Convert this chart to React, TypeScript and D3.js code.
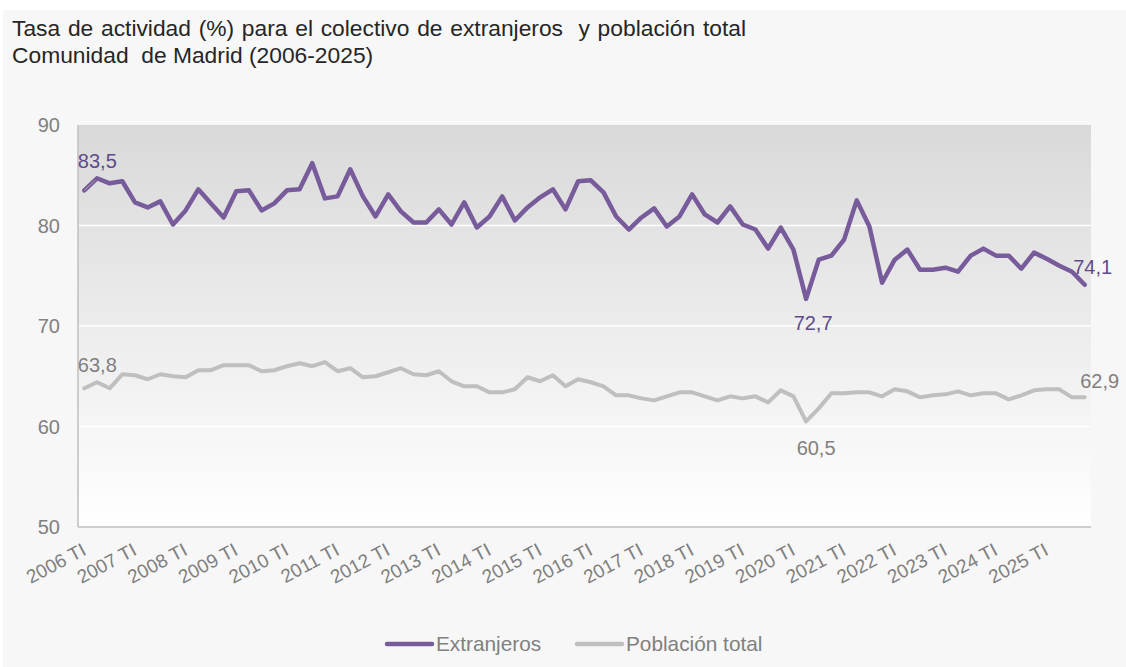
import React from "react";
import * as d3 from "d3";

const years = d3.range(2006, 2026);
const quarterNames = ["TI", "TII", "TIII", "TIV"];
const categories: string[] = years.flatMap((y) => quarterNames.map((q) => `${y} ${q}`));
const tickLabels: string[] = years.map((y) => `${y} TI`);
const yTicks = [50, 60, 70, 80, 90];

const extranjeros = [
  83.5, 84.7, 84.2, 84.4, 82.3, 81.8, 82.4, 80.1, 81.5, 83.6, 82.2, 80.8, 83.4, 83.5, 81.5, 82.2,
  83.5, 83.6, 86.2, 82.7, 82.9, 85.6, 82.9, 80.9, 83.1, 81.4, 80.3, 80.3, 81.6, 80.1, 82.3, 79.8,
  80.9, 82.9, 80.5, 81.8, 82.8, 83.6, 81.6, 84.4, 84.5, 83.3, 80.9, 79.6, 80.8, 81.7, 79.9, 80.9,
  83.1, 81.1, 80.3, 81.9, 80.1, 79.6, 77.7, 79.8, 77.6, 72.7, 76.6, 77.0, 78.6, 82.5, 79.9, 74.3,
  76.6, 77.6, 75.6, 75.6, 75.8, 75.4, 77.0, 77.7, 77.0, 77.0, 75.7, 77.3, 76.7, 76.0, 75.4, 74.1,
];
const poblacionTotal = [
  63.8, 64.4, 63.8, 65.2, 65.1, 64.7, 65.2, 65.0, 64.9, 65.6, 65.6, 66.1, 66.1, 66.1, 65.5, 65.6,
  66.0, 66.3, 66.0, 66.4, 65.5, 65.8, 64.9, 65.0, 65.4, 65.8, 65.2, 65.1, 65.5, 64.5, 64.0, 64.0,
  63.4, 63.4, 63.7, 64.9, 64.5, 65.1, 64.0, 64.7, 64.4, 64.0, 63.1, 63.1, 62.8, 62.6, 63.0, 63.4,
  63.4, 63.0, 62.6, 63.0, 62.8, 63.0, 62.4, 63.6, 63.0, 60.5, 61.8, 63.3, 63.3, 63.4, 63.4, 63.0,
  63.7, 63.5, 62.9, 63.1, 63.2, 63.5, 63.1, 63.3, 63.3, 62.7, 63.1, 63.6, 63.7, 63.7, 62.9, 62.9,
];

const seriesNames = ["Extranjeros", "Población total"];
const seriesColors = ["#775B9B", "#BFBFBF"];
const labelColors = ["#5F4B8B", "#808080"];

const W = 1126;
const H = 667;
const M = { left: 78, right: 1091, top: 125, bottom: 527 };

const fmt = (v: number) => v.toFixed(1).replace(".", ",");

export default function App() {
  const x = d3.scalePoint<string>().domain(categories).range([M.left, M.right]).padding(0.5);
  const y = d3.scaleLinear().domain([50, 90]).range([M.bottom, M.top]);
  const line = d3
    .line<number>()
    .x((_, i) => x(categories[i]) as number)
    .y((d) => y(d));

  const font = "'Liberation Sans', Arial, sans-serif";
  const all = [extranjeros, poblacionTotal];

  const px = (i: number) => x(categories[i]) as number;
  const last = categories.length - 1;
  const minE = extranjeros.indexOf(d3.min(extranjeros) as number);
  const minP = poblacionTotal.indexOf(d3.min(poblacionTotal) as number);

  const dataLabels = [
    { i: 0, s: 0, dx: 13, dy: -22 },
    { i: minE, s: 0, dx: 7, dy: 31 },
    { i: last, s: 0, dx: 8, dy: -11 },
    { i: 0, s: 1, dx: 13, dy: -16 },
    { i: minP, s: 1, dx: 10, dy: 34 },
    { i: last, s: 1, dx: 15, dy: -9 },
  ];

  return (
    <>
      <style>{`body{margin:0;background:#fff}`}</style>
      <svg width={W} height={H} style={{ display: "block", fontFamily: font }}>
        <defs>
          <linearGradient id="plotbg" x1="0" y1="0" x2="0" y2="1">
            <stop offset="0" stopColor="#D9D9D9" />
            <stop offset="1" stopColor="#FFFFFF" />
          </linearGradient>
        </defs>
        <rect x={3} y={10} width={W - 3} height={H - 10} fill="#F7F7F7" />
        <text x={12} y={36} fontSize={22.8} wordSpacing={1.4} fill="#262626" style={{ whiteSpace: "pre" }}>
          {"Tasa de actividad (%) para el colectivo de extranjeros  y población total"}
        </text>
        <text x={12} y={63} fontSize={22.8} fill="#262626" style={{ whiteSpace: "pre" }}>
          {"Comunidad  de Madrid (2006-2025)"}
        </text>

        <rect x={M.left} y={M.top} width={M.right - M.left} height={M.bottom - M.top} fill="url(#plotbg)" />
        {yTicks.slice(1, -1).map((t) => (
          <line key={t} x1={M.left} x2={M.right} y1={y(t)} y2={y(t)} stroke="#FFFFFF" strokeWidth={1.5} />
        ))}
        <line x1={M.left} x2={M.left} y1={M.top} y2={M.bottom} stroke="#BFBFBF" strokeWidth={1.5} />
        <line x1={M.left} x2={M.right} y1={M.bottom} y2={M.bottom} stroke="#BFBFBF" strokeWidth={1.5} />

        {yTicks.map((t) => (
          <text key={t} x={60} y={y(t)} dy="0.35em" textAnchor="end" fontSize={20} fill="#808080">
            {t}
          </text>
        ))}

        {tickLabels.map((lab) => {
          const tx = (x(lab) as number) + 3;
          const ty = 554;
          return (
            <text
              key={lab}
              x={tx}
              y={ty}
              transform={`rotate(-28 ${tx} ${ty})`}
              textAnchor="end"
              fontSize={19}
              fill="#808080"
            >
              {lab}
            </text>
          );
        })}

        {all.map((s, k) => (
          <path
            key={k}
            d={line(s) as string}
            fill="none"
            stroke={seriesColors[k]}
            strokeWidth={k === 0 ? 4.5 : 4}
            strokeLinejoin="round"
            strokeLinecap="round"
          />
        ))}
        <line
          x1={px(0)}
          y1={y(extranjeros[0])}
          x2={px(0) + 11}
          y2={y(extranjeros[0]) - 10}
          stroke="#A6A6A6"
          strokeWidth={1}
        />

        {dataLabels.map((l, k) => (
          <text
            key={k}
            x={px(l.i) + l.dx}
            y={y(all[l.s][l.i]) + l.dy}
            textAnchor="middle"
            fontSize={20}
            fill={labelColors[l.s]}
          >
            {fmt(all[l.s][l.i])}
          </text>
        ))}

        {seriesNames.map((n, k) => {
          const lx = k === 0 ? 387 : 577;
          return (
            <g key={n}>
              <line x1={lx} x2={lx + 45} y1={644} y2={644} stroke={seriesColors[k]} strokeWidth={4.5} strokeLinecap="round" />
              <text x={lx + 49} y={651} fontSize={20.8} fill="#808080">
                {n}
              </text>
            </g>
          );
        })}
      </svg>
    </>
  );
}
